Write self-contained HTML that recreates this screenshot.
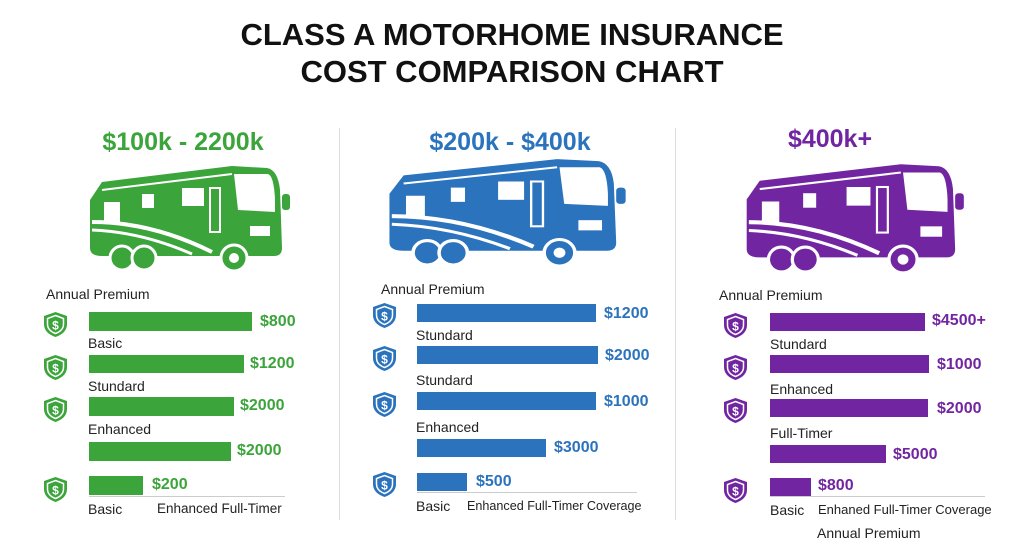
<!DOCTYPE html>
<html><head><meta charset="utf-8"><style>
body{margin:0;background:#fff;width:1024px;height:559px;overflow:hidden;position:relative;font-family:"Liberation Sans",sans-serif}
.t{position:absolute;white-space:nowrap;line-height:1}
.b{position:absolute}
.title{left:0;width:1024px;text-align:center;font-weight:bold;font-size:31px;color:#111}
.h{font-weight:bold;font-size:25px;text-align:center;width:300px}
.lbl{font-size:14px;color:#222}
.v{font-size:16px;font-weight:bold}
.g{color:#3ba43a}.gb{background:#3ba43a}
.bl{color:#2b73bd}.bb{background:#2b73bd}
.p{color:#7125a0}.pb{background:#7125a0}
.vl{position:absolute;width:1px;background:#ddd;top:128px;height:392px}
.ax{position:absolute;height:1px;background:#ccc}
svg.s{position:absolute;width:25px;height:27px}
svg.rv{position:absolute}
</style></head><body>
<svg width="0" height="0" style="position:absolute">
<defs>
<g id="rv">
<path d="M8 40 L20 22 L150 6 L185 8 Q196 10 198 30 L200 88 Q200 96 192 96 L20 96 Q8 96 8 88 Z" fill="currentColor"/>
<path d="M152 14 L186 14 Q192 16 193 40 L193 52 L156 50 Z" fill="#fff"/>
<rect x="100" y="28" width="22" height="18" fill="#fff"/>
<rect x="60" y="34" width="12" height="14" fill="#fff"/>
<rect x="22" y="42" width="16" height="20" fill="#fff"/>
<rect x="128" y="28" width="10" height="44" fill="none" stroke="#fff" stroke-width="2"/>
<path d="M10 62 Q70 62 130 92" fill="none" stroke="#fff" stroke-width="4"/>
<path d="M10 70 Q60 72 110 94" fill="none" stroke="#fff" stroke-width="3"/>
<path d="M20 30 L150 14" stroke="#fff" stroke-width="2"/>
<rect x="168" y="66" width="20" height="10" fill="#fff"/>
<rect x="200" y="34" width="8" height="16" rx="3" fill="currentColor"/>
<circle cx="40" cy="98" r="12" fill="currentColor" stroke="#fff" stroke-width="3"/>
<circle cx="62" cy="98" r="12" fill="currentColor" stroke="#fff" stroke-width="3"/>
<circle cx="152" cy="98" r="13" fill="currentColor" stroke="#fff" stroke-width="3"/>
<circle cx="152" cy="98" r="5" fill="#fff"/>
</g>
<g id="sh">
<path d="M12.5 1 L24 5 L24 13 Q24 22 12.5 26 Q1 22 1 13 L1 5 Z" fill="currentColor"/>
<path d="M12.5 4.5 L20.5 7.5 L20.5 13 Q20.5 19.5 12.5 22.5 Q4.5 19.5 4.5 13 L4.5 7.5 Z" fill="none" stroke="#fff" stroke-width="1.5"/>
<text x="12.5" y="18.5" text-anchor="middle" font-family="Liberation Sans" font-weight="bold" font-size="12" fill="#fff">$</text>
</g>
</defs></svg>

<div class="t title" style="top:19px">CLASS A MOTORHOME INSURANCE</div>
<div class="t title" style="top:56px">COST COMPARISON CHART</div>

<div class="vl" style="left:339px"></div>
<div class="vl" style="left:675px"></div>

<div class="t h g" style="left:33px;top:130px">$100k - 2200k</div>
<div class="t h bl" style="left:360px;top:130px">$200k - $400k</div>
<div class="t h p" style="left:680px;top:127px">$400k+</div>

<svg class="rv g" style="left:82px;top:158px" width="210" height="116" viewBox="0 0 210 112"><use href="#rv"/></svg>
<svg class="rv bl" style="left:380px;top:153px" width="248" height="114" viewBox="0 0 210 112" preserveAspectRatio="none"><use href="#rv"/></svg>
<svg class="rv p" style="left:738px;top:158px" width="228" height="116" viewBox="0 0 210 112" preserveAspectRatio="none"><use href="#rv"/></svg>

<!-- panel 1 -->
<div class="t lbl" style="left:46px;top:287px">Annual Premium</div>
<svg class="s g" style="left:43px;top:311px" viewBox="0 0 25 27"><use href="#sh"/></svg>
<svg class="s g" style="left:43px;top:354px" viewBox="0 0 25 27"><use href="#sh"/></svg>
<svg class="s g" style="left:43px;top:396px" viewBox="0 0 25 27"><use href="#sh"/></svg>
<svg class="s g" style="left:43px;top:476px" viewBox="0 0 25 27"><use href="#sh"/></svg>
<div class="b gb" style="left:89px;top:312px;width:163px;height:19px"></div>
<div class="b gb" style="left:89px;top:355px;width:155px;height:18px"></div>
<div class="b gb" style="left:89px;top:397px;width:145px;height:19px"></div>
<div class="b gb" style="left:89px;top:442px;width:142px;height:19px"></div>
<div class="b gb" style="left:89px;top:476px;width:54px;height:19px"></div>
<div class="ax" style="left:89px;top:496px;width:196px"></div>
<div class="t v g" style="left:260px;top:314px">$800</div>
<div class="t v g" style="left:250px;top:356px">$1200</div>
<div class="t v g" style="left:240px;top:398px">$2000</div>
<div class="t v g" style="left:237px;top:443px">$2000</div>
<div class="t v g" style="left:152px;top:477px">$200</div>
<div class="t lbl" style="left:88px;top:336px">Basic</div>
<div class="t lbl" style="left:88px;top:379px">Stundard</div>
<div class="t lbl" style="left:88px;top:422px">Enhanced</div>
<div class="t lbl" style="left:88px;top:502px">Basic</div>
<div class="t lbl" style="left:157px;top:502px;font-size:13.5px">Enhanced Full-Timer</div>

<!-- panel 2 -->
<div class="t lbl" style="left:381px;top:282px">Annual Premium</div>
<svg class="s bl" style="left:372px;top:302px" viewBox="0 0 25 27"><use href="#sh"/></svg>
<svg class="s bl" style="left:372px;top:345px" viewBox="0 0 25 27"><use href="#sh"/></svg>
<svg class="s bl" style="left:372px;top:391px" viewBox="0 0 25 27"><use href="#sh"/></svg>
<svg class="s bl" style="left:372px;top:471px" viewBox="0 0 25 27"><use href="#sh"/></svg>
<div class="b bb" style="left:417px;top:304px;width:179px;height:18px"></div>
<div class="b bb" style="left:417px;top:346px;width:181px;height:18px"></div>
<div class="b bb" style="left:417px;top:392px;width:179px;height:18px"></div>
<div class="b bb" style="left:417px;top:439px;width:129px;height:18px"></div>
<div class="b bb" style="left:417px;top:473px;width:50px;height:18px"></div>
<div class="ax" style="left:417px;top:492px;width:220px"></div>
<div class="t v bl" style="left:604px;top:306px">$1200</div>
<div class="t v bl" style="left:605px;top:348px">$2000</div>
<div class="t v bl" style="left:604px;top:394px">$1000</div>
<div class="t v bl" style="left:554px;top:440px">$3000</div>
<div class="t v bl" style="left:476px;top:474px">$500</div>
<div class="t lbl" style="left:416px;top:328px">Stundard</div>
<div class="t lbl" style="left:416px;top:373px">Stundard</div>
<div class="t lbl" style="left:416px;top:420px">Enhanced</div>
<div class="t lbl" style="left:416px;top:499px">Basic</div>
<div class="t lbl" style="left:467px;top:500px;font-size:12.6px">Enhanced Full-Timer Coverage</div>

<!-- panel 3 -->
<div class="t lbl" style="left:719px;top:288px">Annual Premium</div>
<svg class="s p" style="left:723px;top:312px" viewBox="0 0 25 27"><use href="#sh"/></svg>
<svg class="s p" style="left:723px;top:354px" viewBox="0 0 25 27"><use href="#sh"/></svg>
<svg class="s p" style="left:723px;top:397px" viewBox="0 0 25 27"><use href="#sh"/></svg>
<svg class="s p" style="left:723px;top:477px" viewBox="0 0 25 27"><use href="#sh"/></svg>
<div class="b pb" style="left:770px;top:313px;width:155px;height:18px"></div>
<div class="b pb" style="left:770px;top:355px;width:159px;height:18px"></div>
<div class="b pb" style="left:770px;top:399px;width:158px;height:18px"></div>
<div class="b pb" style="left:770px;top:445px;width:116px;height:18px"></div>
<div class="b pb" style="left:770px;top:478px;width:41px;height:18px"></div>
<div class="ax" style="left:770px;top:496px;width:215px"></div>
<div class="t v p" style="left:932px;top:313px">$4500+</div>
<div class="t v p" style="left:937px;top:357px">$1000</div>
<div class="t v p" style="left:937px;top:401px">$2000</div>
<div class="t v p" style="left:893px;top:447px">$5000</div>
<div class="t v p" style="left:818px;top:478px">$800</div>
<div class="t lbl" style="left:770px;top:337px">Stundard</div>
<div class="t lbl" style="left:770px;top:382px">Enhanced</div>
<div class="t lbl" style="left:770px;top:426px">Full-Timer</div>
<div class="t lbl" style="left:770px;top:503px">Basic</div>
<div class="t lbl" style="left:818px;top:503px;font-size:13px">Enhaned Full-Timer Coverage</div>
<div class="t lbl" style="left:817px;top:526px">Annual Premium</div>
</body></html>
